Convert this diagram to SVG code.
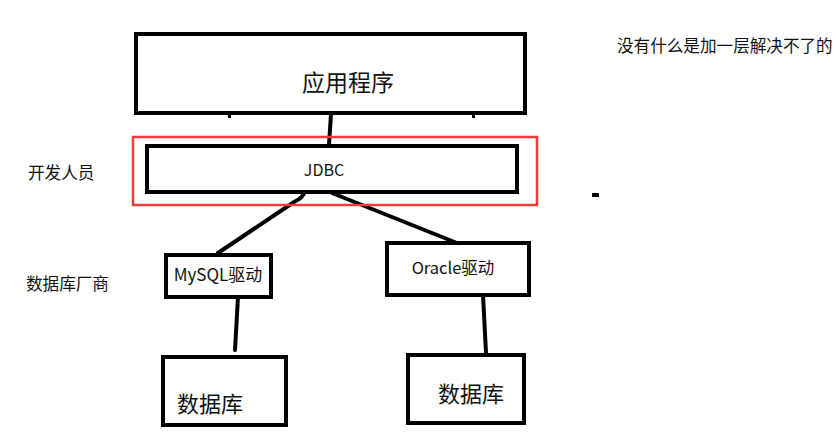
<svg xmlns="http://www.w3.org/2000/svg" width="837" height="437" viewBox="0 0 837 437">
<style>
.box{fill:#fff;stroke:#000;stroke-width:4}
.ln{fill:none;stroke:#000;stroke-width:4;stroke-linecap:round}
.t{font-family:"Noto Sans CJK SC","Liberation Sans",sans-serif;fill:#111;text-anchor:middle;dominant-baseline:central}
.l{font-family:"Noto Sans CJK SC","Liberation Sans",sans-serif;fill:#111;font-size:16.6px;dominant-baseline:central}
</style>
<rect width="837" height="437" fill="#fff"/>
<g id="connectors">
<path class="ln" d="M331 114 L329 145"/>
<path class="ln" d="M305 191 Q303 198 294 202 L218 253"/>
<path class="ln" d="M332 193 L457 243"/>
<path class="ln" d="M238 297 L235 350"/>
<path class="ln" d="M483 295 L486 353"/>
</g>
<g id="app"><rect class="box" x="136" y="34" width="389" height="79"/><text class="t" x="348" y="81" font-size="23">应用程序</text></g>
<g id="devgroup"><rect x="133" y="137" width="404" height="68" fill="none" stroke="#ee3b3b" stroke-width="2.5"/></g>
<g id="jdbc"><rect class="box" x="147" y="146" width="370" height="46"/><text class="t" x="324" y="169" font-size="16">JDBC</text></g>
<g id="mysql"><rect class="box" x="166" y="255" width="105" height="42"/><text class="t" x="218" y="273" font-size="17">MySQL驱动</text></g>
<g id="oracle"><rect class="box" x="387" y="243" width="142" height="52"/><text class="t" x="453" y="267" font-size="16.5">Oracle驱动</text></g>
<g id="db1"><rect class="box" x="163" y="357" width="123" height="68"/><text class="t" x="210" y="402" font-size="22">数据库</text></g>
<g id="db2"><rect class="box" x="408" y="355" width="116" height="68"/><text class="t" x="471" y="392" font-size="22">数据库</text></g>
<g id="labels">
<text class="l" x="28" y="172">开发人员</text>
<text class="l" x="26" y="283">数据库厂商</text>
<text class="l" x="617" y="45">没有什么是加一层解决不了的</text>
<rect x="592" y="193" width="7" height="4" fill="#000"/>
<rect x="228" y="115" width="3" height="3" fill="#000"/>
<rect x="472" y="115" width="3" height="3" fill="#000"/>
</g>
</svg>
